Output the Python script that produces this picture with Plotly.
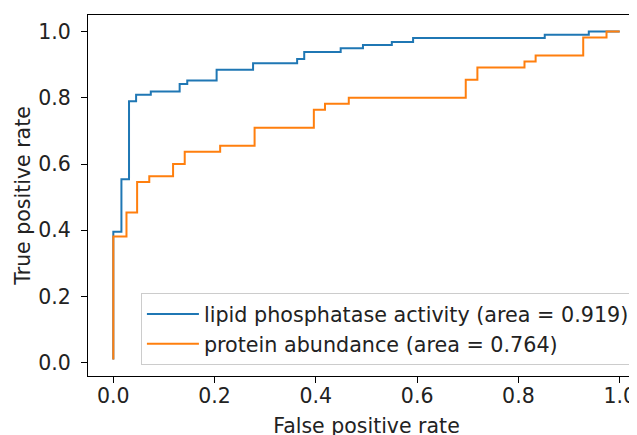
import plotly.graph_objects as go

# ROC step corners; drawn with 'vh' steps
lipid_fpr = [0.0, 0.016, 0.031, 0.045, 0.074, 0.131, 0.146, 0.204, 0.276, 0.363,
             0.377, 0.449, 0.493, 0.550, 0.592, 0.852, 0.939, 1.0]
lipid_tpr = [0.01, 0.396, 0.554, 0.789, 0.809, 0.819, 0.841, 0.852, 0.884, 0.904,
             0.917, 0.938, 0.949, 0.959, 0.968, 0.980, 0.990, 1.0]

protein_fpr = [0.0, 0.026, 0.047, 0.071, 0.118, 0.141, 0.211, 0.279, 0.396, 0.418,
               0.465, 0.696, 0.719, 0.812, 0.834, 0.928, 0.974, 1.0]
protein_tpr = [0.01, 0.381, 0.454, 0.546, 0.563, 0.600, 0.637, 0.655, 0.709, 0.764,
               0.782, 0.800, 0.854, 0.891, 0.909, 0.927, 0.982, 1.0]

series_names = ["lipid phosphatase activity (area = 0.919)",
                "protein abundance (area = 0.764)"]
series_colors = ["#1f77b4", "#ff7f0e"]

tick_vals = [0.0, 0.2, 0.4, 0.6, 0.8, 1.0]
tick_text = ["0.0", "0.2", "0.4", "0.6", "0.8", "1.0"]

FONT = "DejaVu Sans"
FS = 20.5

fig = go.Figure()
for xs, ys, name, col in [(lipid_fpr, lipid_tpr, series_names[0], series_colors[0]),
                          (protein_fpr, protein_tpr, series_names[1], series_colors[1])]:
    fig.add_trace(go.Scatter(x=xs, y=ys, mode="lines", name=name,
                             line=dict(color=col, width=2, shape="vh")))

axis_common = dict(
    showgrid=False, zeroline=False, showline=True, linecolor="black", linewidth=1.2,
    ticks="outside", ticklen=6, tickwidth=1.2, tickcolor="black",
    tickvals=tick_vals, ticktext=tick_text, automargin=False,
    tickfont=dict(family=FONT, size=FS, color="#222"),
)

# the page body adds an 8px offset, margins compensate for it
fig.update_layout(
    width=637, height=435,
    margin=dict(l=80, r=0, t=7, b=67),
    paper_bgcolor="white", plot_bgcolor="white",
    font=dict(family=FONT, color="#222"),
    xaxis=dict(range=[-0.05, 1.05], mirror=True, ticklabelstandoff=-5,
               title=dict(text="False positive rate", font=dict(family=FONT, size=FS, color="#222"),
                          standoff=11),
               **axis_common),
    yaxis=dict(range=[-0.0395, 1.0495], ticklabelstandoff=6,
               title=dict(text="True positive rate", font=dict(family=FONT, size=FS, color="#222"),
                          standoff=2),
               **axis_common),
    legend=dict(x=0.095, y=0.0305, xanchor="left", yanchor="bottom",
                bgcolor="rgba(255,255,255,0.8)", bordercolor="#cccccc", borderwidth=1,
                font=dict(family=FONT, size=20.7, color="#222"),
                itemwidth=52, tracegroupgap=0),
    showlegend=True,
)

fig.write_html("out.html")
